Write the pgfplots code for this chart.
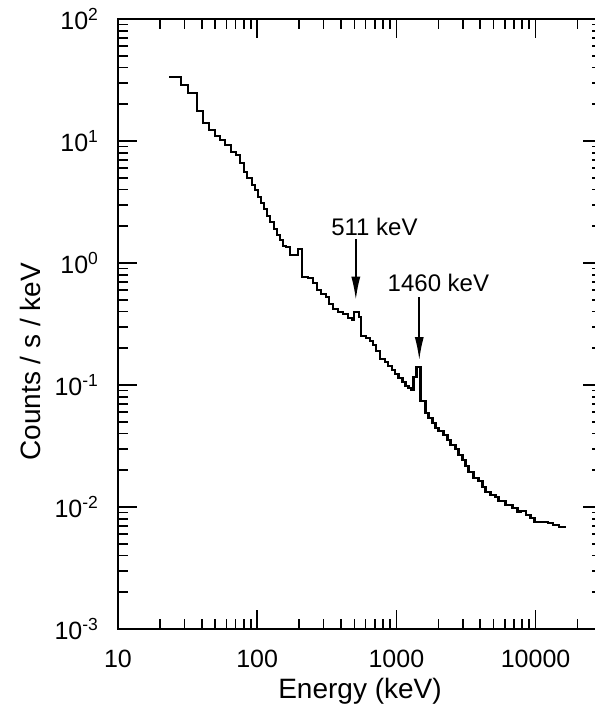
\documentclass[border=0pt]{standalone}
\usepackage{fontspec}
\setmainfont{Liberation Sans}
\usepackage{pgfplots}
\pgfplotsset{compat=1.18}
\usetikzlibrary{arrows.meta,calc}

\begin{document}
\begin{tikzpicture}
\begin{axis}[
    name=ax,
    scale only axis,
    width=242pt, height=305pt,
    xmode=log, ymode=log,
    log basis x=10, log basis y=10,
    xmin=10, xmax=30000,
    ymin=1e-3, ymax=100,
    axis line style={line width=1pt},
    tick align=inside,
    tick pos=both,
    major tick length=9.5pt,
    minor tick length=5pt,
    every tick/.style={black, line width=0.8pt},
    xtick={10,100,1000,10000},
    xticklabels={10,100,1000,10000},
    minor xtick={20,30,40,50,60,70,80,90,200,300,400,500,600,700,800,900,
                 2000,3000,4000,5000,6000,7000,8000,9000,20000},
    ytick={1e-3,1e-2,1e-1,1,10,100},
    yticklabels={10\textsuperscript{-3},10\textsuperscript{-2},10\textsuperscript{-1},
                 10\textsuperscript{0},10\textsuperscript{1},10\textsuperscript{2}},
    minor ytick={0.002,0.003,0.004,0.005,0.006,0.007,0.008,0.009,
                 0.02,0.03,0.04,0.05,0.06,0.07,0.08,0.09,
                 0.2,0.3,0.4,0.5,0.6,0.7,0.8,0.9,
                 2,3,4,5,6,7,8,9,20,30,40,50,60,70,80,90},
    xticklabel style={font=\fontsize{12.5}{15}\selectfont, yshift=-7pt},
    yticklabel style={font=\fontsize{12.5}{15}\selectfont, xshift=-6pt},
    xlabel={Energy (keV)},
    ylabel={Counts / s / keV},
    xlabel style={font=\fontsize{14}{17}\selectfont, at={(axis description cs:0.5,0)}, anchor=center, yshift=-31pt},
    ylabel style={font=\fontsize{14}{17}\selectfont, at={(axis description cs:-0.18,0.438)}, anchor=center},
]
% background spectrum, one step per bin (left edge, rate)
\addplot[const plot, black, line width=1.1pt] coordinates {
(23.27,33.3) (28.40,28.8) (31.89,24.7) (37.02,17.6) (40.88,14.0)
(45.15,12.3) (49.87,11.0) (54.18,10.2) (58.86,9.27) (65.02,8.12)
(70.63,7.68) (75.46,6.60) (80.63,5.57) (84.74,4.97) (92.06,4.36)
(96.74,3.97) (101.7,3.48) (106.9,3.10) (112.3,2.77) (118.0,2.43)
(124.0,2.17) (132.6,1.90) (139.3,1.70) (146.4,1.54) (153.8,1.38)
(161.7,1.35) (172.8,1.16) (197.2,1.30) (210.8,0.768) (232.7,0.753)
(252.9,0.686) (270.2,0.601) (288.7,0.557) (313.6,0.526) (329.6,0.461)
(352.2,0.420) (382.5,0.397) (415.6,0.382) (451.5,0.354) (482.5,0.341)
(498.7,0.397) (541.8,0.361) (560.1,0.252) (608.5,0.243) (650.2,0.229)
(683.4,0.213) (718.2,0.190) (767.3,0.163) (833.6,0.154) (875.9,0.143)
(935.9,0.133) (983.5,0.123) (1034,0.114) (1105,0.106) (1161,0.0983)
(1220,0.0945) (1282,0.0910) (1325,0.116) (1393,0.140) (1488,0.0739)
(1617,0.0590) (1699,0.0536) (1816,0.0488) (1909,0.0444) (2006,0.0420)
(2178,0.0389) (2327,0.0354) (2446,0.0322) (2658,0.0299) (2793,0.0267)
(2984,0.0243) (3136,0.0217) (3296,0.0194) (3581,0.0173) (3890,0.0163)
(4156,0.0146) (4368,0.0133) (4747,0.0125) (5156,0.0121) (5418,0.0112)
(6085,0.0104) (6832,0.00981) (7422,0.00910) (7801,0.00927) (8475,0.00860)
(9205,0.00812) (9835,0.00753) (12200,0.00739) (13250,0.00712) (14640,0.00690)
(16440,0.00690)
};
% line labels
\draw[line width=0.8pt, -{Latex[length=11.5pt, width=4.5pt]}] (axis cs:511,1.56) -- (axis cs:511,0.50);
\node[font=\fontsize{12}{14}\selectfont] at (axis cs:695,1.99) {511 keV};
\draw[line width=0.8pt, -{Latex[length=11.5pt, width=4.5pt]}] (axis cs:1460,0.524) -- (axis cs:1460,0.160);
\node[font=\fontsize{12}{14}\selectfont] at (axis cs:2004,0.686) {1460 keV};
\end{axis}
% the reference is cut off just left of the right axis line
\pgfresetboundingbox
\path[use as bounding box] ($(ax.south west)+(-59pt,-45pt)$) rectangle ($(ax.north east)+(-4pt,9.5pt)$);
\end{tikzpicture}
\end{document}
